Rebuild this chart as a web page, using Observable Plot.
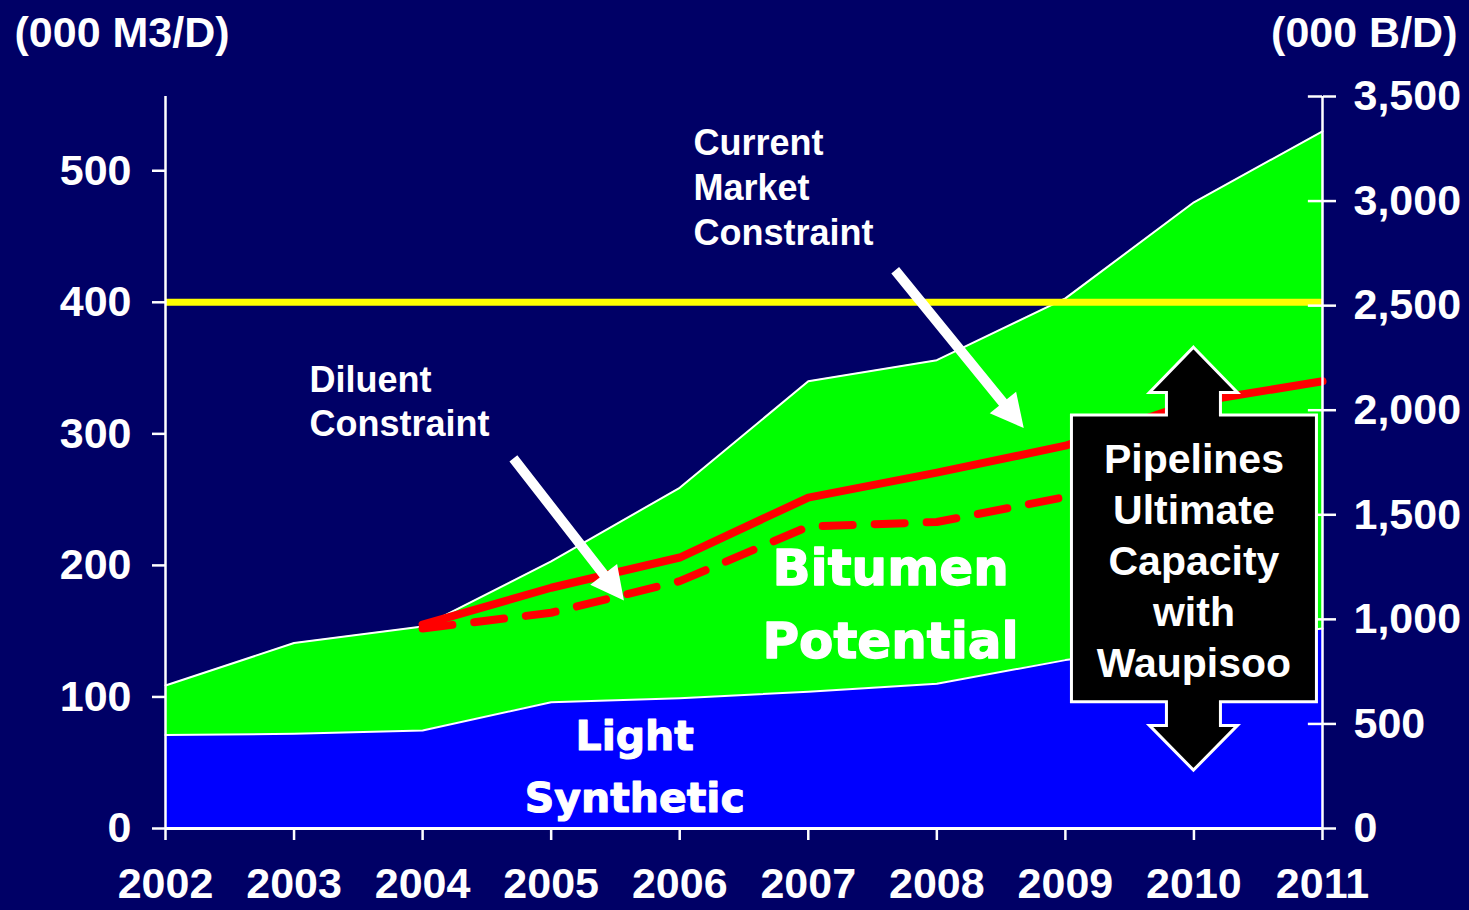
<!DOCTYPE html>
<html>
<head>
<meta charset="utf-8">
<script src="https://cdn.jsdelivr.net/npm/d3@7"></script>
<script src="https://cdn.jsdelivr.net/npm/@observablehq/plot@0.6"></script>
<style>
  html, body { margin: 0; padding: 0; background: #000066; }
  #chart { width: 1469px; height: 910px; }
  #chart svg text { font-weight: bold; }
</style>
</head>
<body>
<div id="chart"></div>
<script>
// ---------- data (000 M3/D) ----------
const years = [2002, 2003, 2004, 2005, 2006, 2007, 2008, 2009, 2010, 2011];
const lightSynthetic = [71, 72, 74.5, 96, 99, 104, 110, 128, 140, 152];
const totalPotential = [108.7, 141, 153.5, 203, 259, 340, 356, 403, 476, 530];

const constraintYears = [2004, 2005, 2006, 2007, 2008, 2009, 2010, 2011];
const pipelineSupply = [155, 183, 206, 251.5, 270.5, 291, 324, 340];   // solid red
const diluentSupply  = [152, 164, 188, 229.5, 233, 252, 272, 289];     // dashed red
const marketConstraint = 400;                                          // yellow line

const leftTicks = [0, 100, 200, 300, 400, 500];
const rightTicksBD = [0, 500, 1000, 1500, 2000, 2500, 3000, 3500];
const BBL_PER_M3 = 6.29;

const areaRows = years.map((year, i) => ({year, light: lightSynthetic[i], total: totalPotential[i]}));
const constraintRows = constraintYears.map((year, i) => ({year, pipe: pipelineSupply[i], diluent: diluentSupply[i]}));

// ---------- annotations (data coordinates) ----------
const arrows = [
  {x1: 2007.68, y1: 424, x2: 2008.68, y2: 304},   // current market constraint
  {x1: 2004.71, y1: 281, x2: 2005.57, y2: 173}    // diluent constraint
];
const capacityBox = {x: 2010, tipTop: 365.5, headTop: 331, boxTop: 314, boxBottom: 96, headBottom: 78, tipBottom: 44};

const sans = "'Liberation Sans', Arial, Helvetica, sans-serif";
const heavy = "'DejaVu Sans', 'Liberation Sans', sans-serif";

function annotationLayer(index, scales) {
  const {x, y} = scales;
  const g = d3.create("svg:g");
  // straight white arrows
  for (const a of arrows) {
    const x1 = x(a.x1), y1 = y(a.y1), x2 = x(a.x2), y2 = y(a.y2);
    const len = Math.hypot(x2 - x1, y2 - y1);
    const ux = (x2 - x1) / len, uy = (y2 - y1) / len;
    const px = -uy, py = ux;
    const headLen = 33, headHalf = 17, shaftHalf = 5;
    const bx = x2 - ux * headLen, by = y2 - uy * headLen;
    const pts = [
      [x1 + px * shaftHalf, y1 + py * shaftHalf],
      [bx + px * shaftHalf, by + py * shaftHalf],
      [bx + px * headHalf, by + py * headHalf],
      [x2, y2],
      [bx - px * headHalf, by - py * headHalf],
      [bx - px * shaftHalf, by - py * shaftHalf],
      [x1 - px * shaftHalf, y1 - py * shaftHalf]
    ];
    g.append("polygon").attr("points", pts.map(p => p.join(",")).join(" ")).attr("fill", "white");
  }
  // double-headed arrow box
  const b = capacityBox;
  const cx = x(b.x);
  const head = 44, shaft = 27, boxL = 122, boxR = 123;
  const pts = [
    [cx, y(b.tipTop)],
    [cx + head, y(b.headTop)],
    [cx + shaft, y(b.headTop)],
    [cx + shaft, y(b.boxTop)],
    [cx + boxR, y(b.boxTop)],
    [cx + boxR, y(b.boxBottom)],
    [cx + shaft, y(b.boxBottom)],
    [cx + shaft, y(b.headBottom)],
    [cx + head, y(b.headBottom)],
    [cx, y(b.tipBottom)],
    [cx - head, y(b.headBottom)],
    [cx - shaft, y(b.headBottom)],
    [cx - shaft, y(b.boxBottom)],
    [cx - boxL, y(b.boxBottom)],
    [cx - boxL, y(b.boxTop)],
    [cx - shaft, y(b.boxTop)],
    [cx - shaft, y(b.headTop)],
    [cx - head, y(b.headTop)]
  ];
  g.append("polygon").attr("points", pts.map(p => p.join(",")).join(" "))
    .attr("fill", "black").attr("stroke", "white").attr("stroke-width", 3).attr("stroke-linejoin", "miter");
  return g.node();
}

const yMax = 3500 / BBL_PER_M3;

const chart = Plot.plot({
  width: 1469,
  height: 910,
  marginLeft: 165,
  marginRight: 147,
  marginTop: 96,
  marginBottom: 82,
  style: {background: "#000066", color: "white", fontFamily: sans},
  x: {type: "linear", domain: [2002, 2011]},
  y: {domain: [0, yMax]},
  marks: [
    // stacked areas
    Plot.areaY(areaRows, {x: "year", y: "total", fill: "#00ff00"}),
    Plot.line(areaRows, {x: "year", y: "total", stroke: "white", strokeWidth: 2}),
    Plot.areaY(areaRows, {x: "year", y: "light", fill: "#0000ff"}),
    Plot.line(areaRows, {x: "year", y: "light", stroke: "white", strokeWidth: 2}),
    // constraint lines
    Plot.ruleY([marketConstraint], {x1: 2002, x2: 2011, stroke: "#ffff00", strokeWidth: 7}),
    Plot.line(constraintRows, {x: "year", y: "pipe", stroke: "#ff0000", strokeWidth: 8}),
    Plot.line(constraintRows, {x: "year", y: "diluent", stroke: "#ff0000", strokeWidth: 8, strokeDasharray: "30,22"}),
    // axis lines
    Plot.ruleX([2002], {y1: 0, y2: yMax, stroke: "white", strokeWidth: 2.5}),
    Plot.ruleX([2011], {y1: 0, y2: yMax, stroke: "white", strokeWidth: 2.5}),
    Plot.ruleY([0], {x1: 2002, x2: 2011, stroke: "white", strokeWidth: 3}),
    Plot.ruleY(rightTicksBD.map(b => b / BBL_PER_M3), {x1: 2010.89, x2: 2011, stroke: "white", strokeWidth: 2.5}),
    // axes
    Plot.axisY({anchor: "left", ticks: leftTicks, tickSize: 13, tickPadding: 21, fontSize: 43, label: null, strokeWidth: 2.5}),
    Plot.axisY({anchor: "right", ticks: rightTicksBD.map(b => b / BBL_PER_M3),
      tickFormat: d => d3.format(",")(Math.round(d * BBL_PER_M3)),
      tickSize: 13, tickPadding: 18, fontSize: 43, label: null, strokeWidth: 2.5}),
    Plot.axisX({ticks: years, tickFormat: d => String(d), tickSize: 12, tickPadding: 27, fontSize: 43, label: null, strokeWidth: 2.5}),
    // unit labels
    Plot.text(["(000 M3/D)"], {frameAnchor: "top-left", dx: -151, dy: -63, textAnchor: "start", lineAnchor: "middle", fontSize: 43, fill: "white"}),
    Plot.text(["(000 B/D)"], {frameAnchor: "top-right", dx: 135, dy: -63, textAnchor: "end", lineAnchor: "middle", fontSize: 43, fill: "white"}),
    // annotation text
    Plot.text(["Current\nMarket\nConstraint"], {x: 2006.107, y: 489, textAnchor: "start", lineAnchor: "middle", fontSize: 36, lineHeight: 1.25, fill: "white"}),
    Plot.text(["Diluent\nConstraint"], {x: 2003.12, y: 325.8, textAnchor: "start", lineAnchor: "middle", fontSize: 36, lineHeight: 1.22, fill: "white"}),
    Plot.text(["Bitumen\nPotential"], {x: 2007.64, y: 175, textAnchor: "middle", lineAnchor: "middle", fontSize: 50, lineHeight: 1.46, fontFamily: heavy, fill: "white", stroke: "white", strokeWidth: 1.3}),
    Plot.text(["Light\nSynthetic"], {x: 2005.65, y: 50.9, textAnchor: "middle", lineAnchor: "middle", fontSize: 41, lineHeight: 1.51, fontFamily: heavy, fill: "white", stroke: "white", strokeWidth: 1.1}),
    annotationLayer,
    Plot.text(["Pipelines\nUltimate\nCapacity\nwith\nWaupisoo"], {x: 2010, y: 205.3, textAnchor: "middle", lineAnchor: "middle", fontSize: 41, lineHeight: 1.245, fill: "white"})
  ]
});

document.getElementById("chart").appendChild(chart);
</script>
</body>
</html>
